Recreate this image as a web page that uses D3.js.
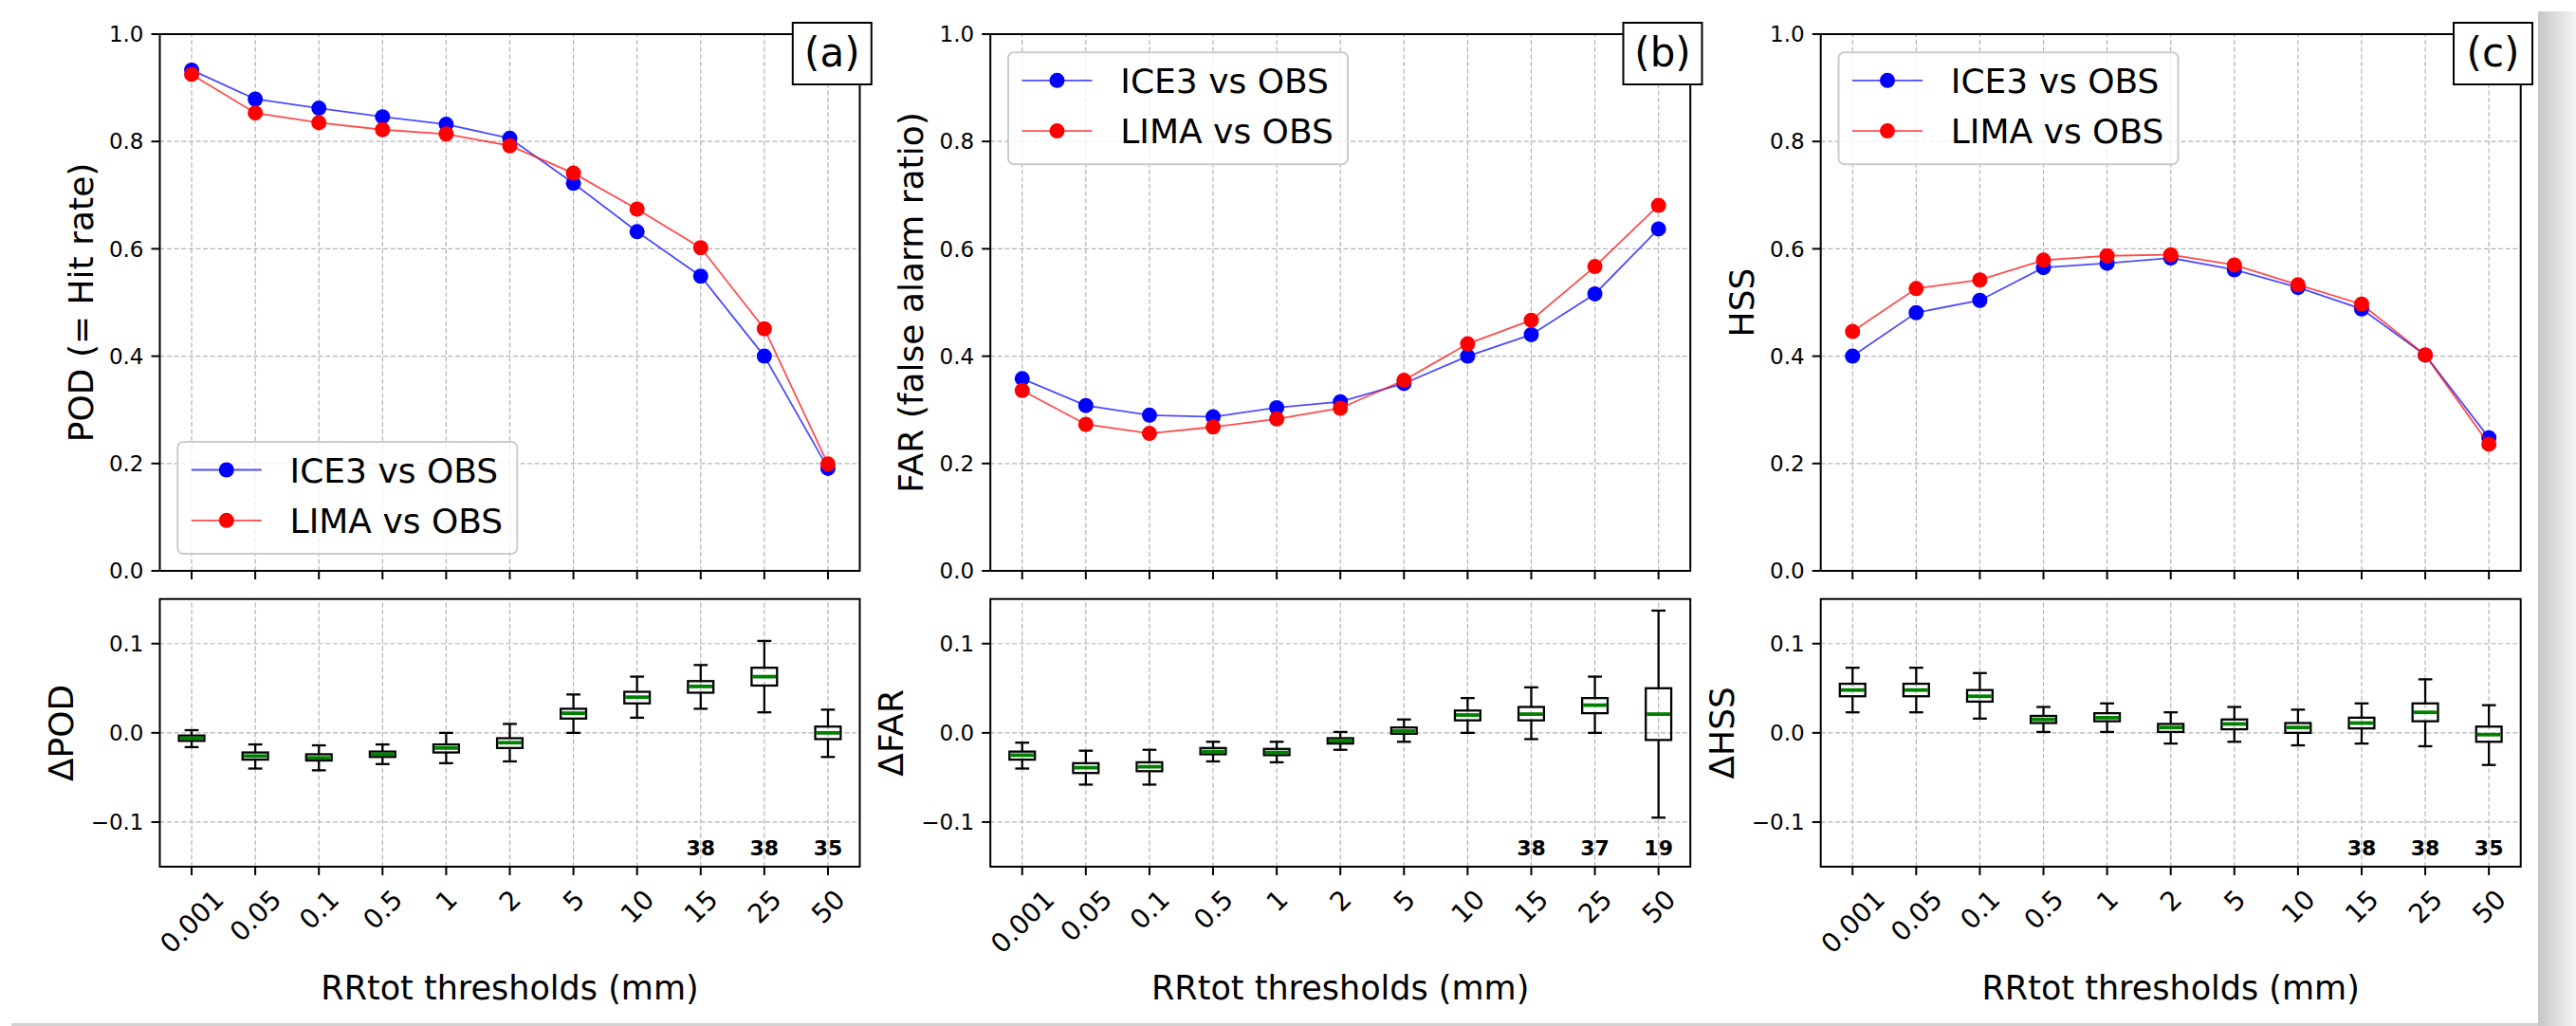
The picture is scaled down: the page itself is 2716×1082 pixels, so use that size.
<!DOCTYPE html>
<html>
<head>
<meta charset="utf-8">
<script src="https://cdn.jsdelivr.net/npm/d3@7"></script>
<style>
  body { margin: 0; background: #fff; }
  svg { display: block; font-family: "DejaVu Sans", sans-serif; }
</style>
</head>
<body>
<svg width="2716" height="1082"></svg>
<script>
// thresholds on the x axis (mm)
const thresholds = ["0.001", "0.05", "0.1", "0.5", "1", "2", "5", "10", "15", "25", "50"];

// scores, one value per threshold
const podIce3 = [0.933, 0.879, 0.862, 0.846, 0.832, 0.806, 0.722, 0.632, 0.549, 0.400, 0.191];
const podLima = [0.925, 0.853, 0.835, 0.822, 0.814, 0.792, 0.741, 0.674, 0.602, 0.451, 0.199];
const farIce3 = [0.358, 0.308, 0.290, 0.287, 0.304, 0.315, 0.349, 0.400, 0.440, 0.516, 0.637];
const farLima = [0.336, 0.273, 0.256, 0.268, 0.283, 0.303, 0.355, 0.423, 0.467, 0.567, 0.681];
const hssIce3 = [0.400, 0.481, 0.504, 0.565, 0.573, 0.583, 0.561, 0.528, 0.488, 0.402, 0.248];
const hssLima = [0.446, 0.526, 0.542, 0.579, 0.587, 0.589, 0.570, 0.533, 0.497, 0.402, 0.236];

// differences LIMA - ICE3 : [whisker low, q1, median, q3, whisker high]
const dPod = [
  [-0.016, -0.009, -0.006, -0.003, 0.003],
  [-0.040, -0.030, -0.026, -0.022, -0.013],
  [-0.042, -0.031, -0.028, -0.024, -0.014],
  [-0.035, -0.027, -0.024, -0.021, -0.013],
  [-0.034, -0.022, -0.017, -0.013, 0.000],
  [-0.032, -0.017, -0.011, -0.006, 0.010],
  [0.000, 0.016, 0.022, 0.027, 0.043],
  [0.017, 0.033, 0.040, 0.046, 0.063],
  [0.027, 0.045, 0.052, 0.058, 0.076],
  [0.023, 0.053, 0.063, 0.073, 0.103],
  [-0.027, -0.007, 0.000, 0.007, 0.026]
];
const dFar = [
  [-0.040, -0.030, -0.025, -0.021, -0.011],
  [-0.058, -0.045, -0.039, -0.034, -0.020],
  [-0.058, -0.043, -0.038, -0.033, -0.019],
  [-0.032, -0.024, -0.021, -0.017, -0.010],
  [-0.033, -0.025, -0.022, -0.018, -0.010],
  [-0.019, -0.012, -0.009, -0.006, 0.001],
  [-0.010, -0.001, 0.002, 0.006, 0.015],
  [0.000, 0.014, 0.020, 0.025, 0.039],
  [-0.007, 0.014, 0.021, 0.029, 0.051],
  [0.000, 0.022, 0.031, 0.039, 0.063],
  [-0.095, -0.008, 0.021, 0.050, 0.137]
];
const dHss = [
  [0.023, 0.041, 0.048, 0.055, 0.073],
  [0.023, 0.041, 0.048, 0.055, 0.073],
  [0.016, 0.035, 0.041, 0.048, 0.067],
  [0.001, 0.011, 0.015, 0.019, 0.029],
  [0.001, 0.013, 0.017, 0.022, 0.033],
  [-0.012, 0.001, 0.006, 0.010, 0.023],
  [-0.010, 0.004, 0.010, 0.015, 0.029],
  [-0.014, 0.000, 0.006, 0.011, 0.026],
  [-0.012, 0.005, 0.011, 0.017, 0.033],
  [-0.015, 0.013, 0.023, 0.033, 0.060],
  [-0.036, -0.010, -0.002, 0.007, 0.031]
];

// sample sizes written under the last boxes
const nPod = [null, null, null, null, null, null, null, null, 38, 38, 35];
const nFar = [null, null, null, null, null, null, null, null, 38, 37, 19];
const nHss = [null, null, null, null, null, null, null, null, 38, 38, 35];

const topTicks = [0, 0.2, 0.4, 0.6, 0.8, 1.0];
const botTicks = [-0.1, 0, 0.1];

const svg = d3.select("svg");

// drop shadow of the figure
const defs = svg.append("defs");
const grad = defs.append("linearGradient").attr("id", "shadeR")
    .attr("x1", "0").attr("x2", "1").attr("y1", "0").attr("y2", "0");
grad.append("stop").attr("offset", "0").attr("stop-color", "#c6c6c6");
grad.append("stop").attr("offset", "1").attr("stop-color", "#f5f5f5");
svg.append("rect").attr("x", 2676).attr("y", 12).attr("width", 40).attr("height", 1070)
    .attr("fill", "url(#shadeR)");
svg.append("rect").attr("x", 12).attr("y", 1079).attr("width", 2664).attr("height", 3)
    .attr("fill", "#d2d2d2");

const plotW = 738;
const topRange = [602, 36];
const botRange = [914, 631.7];

const panels = [
  { left: 168.5, tag: "(a)", yLabel: "POD (= Hit rate)", dLabel: "\u0394POD",
    ice3: podIce3, lima: podLima, boxes: dPod, counts: nPod, legendAt: "bottom" },
  { left: 1044.2, tag: "(b)", yLabel: "FAR (false alarm ratio)", dLabel: "\u0394FAR",
    ice3: farIce3, lima: farLima, boxes: dFar, counts: nFar, legendAt: "top" },
  { left: 1919.7, tag: "(c)", yLabel: "HSS", dLabel: "\u0394HSS",
    ice3: hssIce3, lima: hssLima, boxes: dHss, counts: nHss, legendAt: "top" }
];

const fmt = d3.format(".1f");
const minusFmt = v => fmt(v).replace("-", "\u2212");

panels.forEach(p => {
    const x = d3.scaleLinear().domain([0.5, 11.5]).range([p.left, p.left + plotW]);
    const yTop = d3.scaleLinear().domain([0, 1]).range(topRange);
    const yBot = d3.scaleLinear().domain([-0.15, 0.15]).range(botRange);
    const pos = d3.range(1, 12);
    const g = svg.append("g");

    // grids
    [[yTop, topTicks], [yBot, botTicks]].forEach(([y, ticks]) => {
        const grid = g.append("g")
            .attr("stroke", "#b3b3b3").attr("stroke-width", 1.2)
            .attr("stroke-dasharray", "5,2.6");
        grid.selectAll(".v").data(pos).enter().append("line")
            .attr("x1", d => x(d)).attr("x2", d => x(d))
            .attr("y1", y.range()[0]).attr("y2", y.range()[1]);
        grid.selectAll(".h").data(ticks).enter().append("line")
            .attr("x1", x.range()[0]).attr("x2", x.range()[1])
            .attr("y1", d => y(d)).attr("y2", d => y(d));
    });

    // score lines: ICE3 first, LIMA on top
    [[p.ice3, "#0000ff"], [p.lima, "#ff0000"]].forEach(([vals, col]) => {
        g.append("path").datum(vals)
            .attr("fill", "none").attr("stroke", col)
            .attr("stroke-opacity", 0.7).attr("stroke-width", 1.8)
            .attr("d", d3.line().x((d, i) => x(i + 1)).y(d => yTop(d)));
        g.selectAll(null).data(vals).enter().append("circle")
            .attr("cx", (d, i) => x(i + 1)).attr("cy", d => yTop(d))
            .attr("r", 8).attr("fill", col);
    });

    // box plots of the differences
    const bw = x(1.4) - x(1);
    const cw = x(1.22) - x(1);
    const bx = g.append("g");
    p.boxes.forEach((b, i) => {
        const cx = x(i + 1);
        const k = bx.append("g").attr("stroke", "#000").attr("stroke-width", 2.3).attr("fill", "none");
        k.append("line").attr("x1", cx).attr("x2", cx).attr("y1", yBot(b[3])).attr("y2", yBot(b[4]));
        k.append("line").attr("x1", cx).attr("x2", cx).attr("y1", yBot(b[1])).attr("y2", yBot(b[0]));
        k.append("line").attr("x1", cx - cw / 2).attr("x2", cx + cw / 2).attr("y1", yBot(b[4])).attr("y2", yBot(b[4]));
        k.append("line").attr("x1", cx - cw / 2).attr("x2", cx + cw / 2).attr("y1", yBot(b[0])).attr("y2", yBot(b[0]));
        k.append("rect").attr("x", cx - bw / 2).attr("width", bw)
            .attr("y", yBot(b[3])).attr("height", yBot(b[1]) - yBot(b[3]));
        bx.append("line").attr("x1", cx - bw / 2 + 1).attr("x2", cx + bw / 2 - 1)
            .attr("y1", yBot(b[2])).attr("y2", yBot(b[2]))
            .attr("stroke", "#008000").attr("stroke-width", 3.8);
    });

    // sample sizes
    const counts = p.counts.map((v, i) => ({ v, i })).filter(d => d.v !== null);
    g.selectAll(null).data(counts).enter().append("text")
        .attr("x", d => x(d.i + 1))
        .attr("y", yBot(-0.1375))
        .attr("text-anchor", "middle").attr("font-size", 22).attr("font-weight", "bold")
        .text(d => d.v);

    // frames and ticks
    [[yTop, topTicks], [yBot, botTicks]].forEach(([y, ticks], row) => {
        const r = y.range();
        g.append("rect").attr("x", x.range()[0]).attr("y", r[1])
            .attr("width", plotW).attr("height", r[0] - r[1])
            .attr("fill", "none").attr("stroke", "#000").attr("stroke-width", 2);
        const ax = g.append("g").attr("stroke", "#000").attr("stroke-width", 2);
        ax.selectAll(null).data(ticks).enter().append("line")
            .attr("x1", x.range()[0] - 9).attr("x2", x.range()[0])
            .attr("y1", d => y(d)).attr("y2", d => y(d));
        ax.selectAll(null).data(pos).enter().append("line")
            .attr("x1", d => x(d)).attr("x2", d => x(d))
            .attr("y1", r[0]).attr("y2", r[0] + 9);
        g.selectAll(null).data(ticks).enter().append("text")
            .attr("x", x.range()[0] - 17).attr("y", d => y(d)).attr("dy", "0.36em")
            .attr("text-anchor", "end").attr("font-size", 23)
            .text(d => row === 0 ? fmt(d) : minusFmt(d));
    });

    // rotated threshold labels
    g.selectAll(null).data(thresholds).enter().append("text")
        .attr("font-size", 28).attr("text-anchor", "middle").attr("dy", "0.36em")
        .text(d => d)
        .each(function(d, i) {
            const w = this.getComputedTextLength();
            const cy = 936 + (w + 0.73 * 28) * 0.3536;
            d3.select(this).attr("transform", `translate(${x(i + 1)},${cy}) rotate(-45)`);
        });

    // axis titles
    g.append("text").attr("transform", `translate(${p.left - 71},${(topRange[0] + topRange[1]) / 2}) rotate(-90)`)
        .attr("text-anchor", "middle").attr("font-size", 36).text(p.yLabel);
    g.append("text").attr("transform", `translate(${p.left - 92},${(botRange[0] + botRange[1]) / 2}) rotate(-90)`)
        .attr("text-anchor", "middle").attr("font-size", 36).text(p.dLabel);
    g.append("text").attr("x", x(6)).attr("y", 1054)
        .attr("text-anchor", "middle").attr("font-size", 35).text("RRtot thresholds (mm)");

    // legend
    const lx = p.left + 18.8;
    const ly = p.legendAt === "bottom" ? 466 : 55.3;
    const leg = g.append("g").attr("transform", `translate(${lx},${ly})`);
    leg.append("rect").attr("width", 358).attr("height", 118).attr("rx", 6)
        .attr("fill", "#fff").attr("fill-opacity", 0.8)
        .attr("stroke", "#cccccc").attr("stroke-width", 2);
    [["ICE3 vs OBS", "#0000ff"], ["LIMA vs OBS", "#ff0000"]].forEach(([name, col], j) => {
        const ry = 29.5 + j * 53.3;
        leg.append("line").attr("x1", 14.5).attr("x2", 88.5).attr("y1", ry).attr("y2", ry)
            .attr("stroke", col).attr("stroke-opacity", 0.7).attr("stroke-width", 1.8);
        leg.append("circle").attr("cx", 51.5).attr("cy", ry).attr("r", 8).attr("fill", col);
        leg.append("text").attr("x", 118.3).attr("y", ry + 13.3).attr("font-size", 36).text(name);
    });

    // panel tag box
    const tx = p.left + plotW - 70.7;
    g.append("rect").attr("x", tx).attr("y", 24).attr("width", 83).attr("height", 65)
        .attr("fill", "#fff").attr("stroke", "#000").attr("stroke-width", 2);
    g.append("text").attr("x", tx + 41.5).attr("y", 69.7)
        .attr("text-anchor", "middle").attr("font-size", 42).text(p.tag);
});
</script>
</body>
</html>
